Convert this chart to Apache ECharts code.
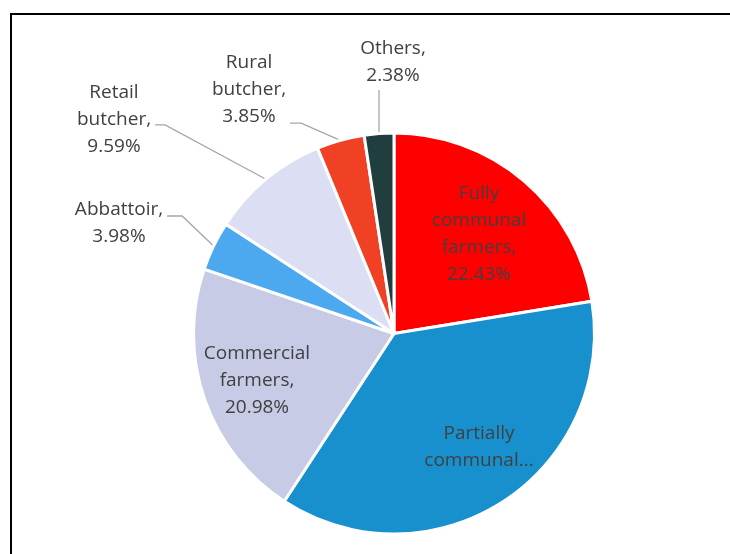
<!DOCTYPE html>
<html>
<head>
<meta charset="utf-8">
<script src="https://cdn.jsdelivr.net/npm/echarts@6/dist/echarts.min.js"></script>
<style>
  html, body { margin: 0; padding: 0; background: #fff; }
  #chart { width: 730px; height: 554px; }
</style>
</head>
<body>
<div id="chart"></div>
<script>
// Buyers of livestock, share of sales (%)
const categories = [
  'Fully communal farmers',
  'Partially communal farmers',
  'Commercial farmers',
  'Abbattoir',
  'Retail butcher',
  'Rural butcher',
  'Others'
];
const shares = [22.43, 36.79, 20.98, 3.98, 9.59, 3.85, 2.38];
// Wrapped label text for each slice (value is appended where shown)
const labelWords = [
  ['Fully', 'communal', 'farmers,'],
  ['Partially', 'communal...'],
  ['Commercial', 'farmers,'],
  ['Abbattoir,'],
  ['Retail', 'butcher,'],
  ['Rural', 'butcher,'],
  ['Others,']
];
const showValue = [true, false, true, true, true, true, true];
const sliceColors = ['#FF0000', '#1890CD', '#C8CBE5', '#4DA9EF', '#DCDFF3', '#F04124', '#213E3F'];
const insideSlice = [true, true, true, false, false, false, false];

// Label block centres and leader-line attachment
const labelSpots = [
  { x: 479, y: 234 },
  { x: 479, y: 447 },
  { x: 257, y: 381 },
  { x: 119, y: 223, side: 'right', at: 0.37, len: 15 },
  { x: 114, y: 120, side: 'right', at: 0.56, len: 10 },
  { x: 249, y: 90, side: 'right', at: 0.91, len: 11 },
  { x: 393, y: 62, side: 'bottom', len: 8 }
];

const CX = 394, CY = 333.5, R = 200.5;

function midPoint(i) {
  const total = shares.reduce((a, b) => a + b, 0);
  let before = 0;
  for (let k = 0; k < i; k++) before += shares[k];
  const a = (before + shares[i] / 2) / total * 2 * Math.PI;
  return [CX + (R - 1.5) * Math.sin(a), CY - (R - 1.5) * Math.cos(a)];
}

const chart = echarts.init(document.getElementById('chart'), null, { renderer: 'canvas' });

const data = categories.map((name, i) => ({
  name: name,
  value: shares[i],
  itemStyle: { color: sliceColors[i] },
  label: { position: insideSlice[i] ? 'inside' : 'outside' },
  labelLine: { show: !insideSlice[i] }
}));

chart.setOption({
  animation: false,
  backgroundColor: '#fff',
  graphic: [{
    type: 'rect',
    silent: true,
    shape: { x: 11, y: 14, width: 780, height: 600 },
    style: { fill: 'none', stroke: '#000', lineWidth: 2 }
  }],
  series: [{
    type: 'pie',
    center: [CX, CY],
    radius: [0, R],
    startAngle: 90,
    clockwise: true,
    avoidLabelOverlap: false,
    silent: true,
    itemStyle: { borderColor: '#fff', borderWidth: 3 },
    label: {
      show: true,
      fontFamily: '"Open Sans", sans-serif',
      fontSize: 19,
      lineHeight: 27,
      color: '#404040',
      align: 'center',
      formatter: function (p) {
        const lines = labelWords[p.dataIndex].slice();
        if (showValue[p.dataIndex]) lines.push(p.value.toFixed(2) + '%');
        return lines.join('\n');
      }
    },
    labelLine: {
      show: true,
      length: 10,
      length2: 10,
      lineStyle: { color: '#A6A6A6', width: 1.3 }
    },
    labelLayout: function (p) {
      const s = labelSpots[p.dataIndex];
      const out = { x: s.x, y: s.y, align: 'center', verticalAlign: 'middle' };
      if (s.side) {
        const w = p.labelRect.width, h = p.labelRect.height;
        const tip = (p.labelLinePoints && p.labelLinePoints[0]) || midPoint(p.dataIndex);
        let start, elbow;
        if (s.side === 'right') {
          start = [s.x + w / 2 + 4, s.y - h / 2 + h * s.at];
          elbow = [start[0] + s.len, start[1]];
        } else {
          start = [tip[0], s.y + h / 2 + 1];
          elbow = [tip[0], start[1] + s.len];
        }
        out.labelLinePoints = [tip, elbow, start];
      }
      return out;
    },
    data: data
  }]
});
</script>
</body>
</html>
